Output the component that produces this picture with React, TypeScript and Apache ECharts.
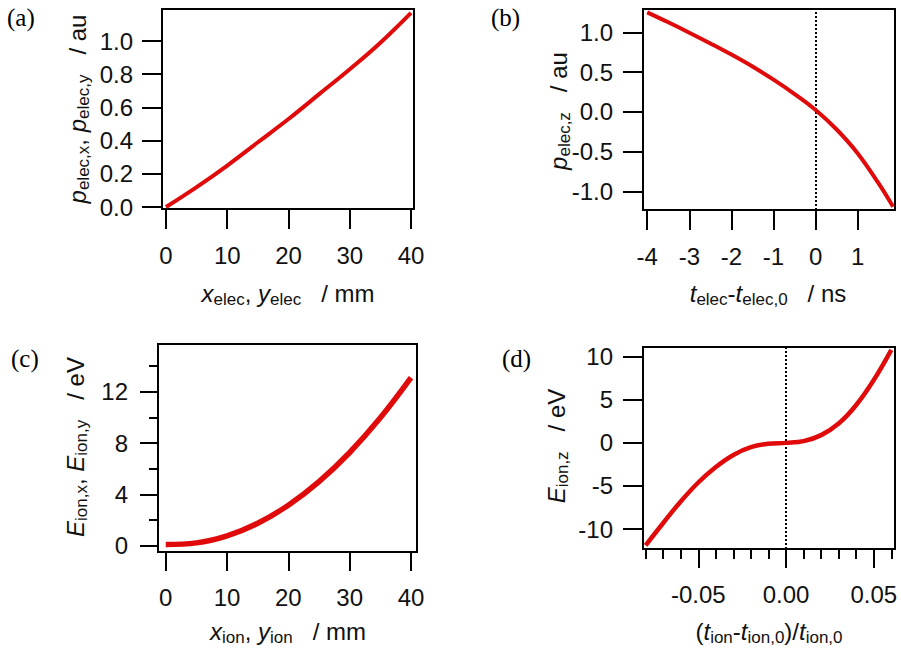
import React, { useEffect, useRef } from "react";
import * as echarts from "echarts";

// ---- data ----
const A_X = [0, 5, 10, 15, 20, 25, 30, 35, 40];
const A_Y = [0, 0.12, 0.25, 0.39, 0.53, 0.68, 0.83, 0.99, 1.17];

const B_X = [-4, -3.5, -3, -2.5, -2, -1.5, -1, -0.5, 0, 0.5, 1, 1.5, 1.84];
const B_Y = [1.25, 1.125, 0.995, 0.86, 0.72, 0.57, 0.405, 0.225, 0.025, -0.22, -0.52, -0.9, -1.19];

const C_X = [0, 5, 10, 15, 20, 25, 30, 35, 40];
const C_Y = [0.1, 0.22, 0.77, 1.75, 3.16, 5.0, 7.27, 9.97, 13.1];

const D_X = [-0.08, -0.07, -0.06, -0.05, -0.04, -0.03, -0.02, -0.01, 0, 0.01, 0.02, 0.03, 0.04, 0.05, 0.06];
const D_Y = [-11.9, -9.3, -6.8, -4.6, -2.8, -1.4, -0.5, -0.1, 0, 0.2, 0.9, 2.25, 4.4, 7.3, 10.8];

// ---- tick values ----
const A_XTICKS = [0, 10, 20, 30, 40];
const A_YTICKS = [0, 0.2, 0.4, 0.6, 0.8, 1.0];
const B_XTICKS = [-4, -3, -2, -1, 0, 1];
const B_YTICKS = [-1, -0.5, 0, 0.5, 1];
const C_XTICKS = [0, 10, 20, 30, 40];
const C_YTICKS = [0, 4, 8, 12];
const C_YMINOR = [2, 6, 10, 14];
const D_XTICKS = [-0.05, 0, 0.05];
const D_XMINOR = [-0.08, -0.07, -0.06, -0.04, -0.03, -0.02, -0.01, 0.01, 0.02, 0.03, 0.04, 0.06];
const D_YTICKS = [-10, -5, 0, 5, 10];

const FONT = "'Liberation Sans', Arial, sans-serif";
const SERIF = "'Liberation Serif', 'Times New Roman', serif";
const RED = "#e00a0a";
const INK = "#111";

function axis(
  gridIndex: number,
  min: number,
  max: number,
  ticks: number[],
  len: number,
  dec: number,
  margin: number,
  showLabels = true
) {
  return {
    type: "value",
    gridIndex,
    min,
    max,
    axisLine: { show: false, onZero: false },
    splitLine: { show: false },
    axisTick: {
      show: true,
      customValues: ticks,
      length: len,
      lineStyle: { color: "#000", width: 2 },
    },
    axisLabel: {
      show: showLabels,
      customValues: ticks,
      formatter: (v: number) => Number(v).toFixed(dec),
      margin,
      fontSize: 24,
      color: INK,
      fontFamily: FONT,
    },
  };
}

const rich = {
  i: { fontSize: 24, fontStyle: "italic", fontFamily: FONT, lineHeight: 30, fill: INK, color: INK },
  n: { fontSize: 24, fontFamily: FONT, lineHeight: 30, fill: INK, color: INK },
  s: { fontSize: 17, fontFamily: FONT, lineHeight: 14, verticalAlign: "bottom", fill: INK, color: INK },
};

function title(text: string, x: number, y: number, rotated: boolean) {
  return {
    type: "text",
    x,
    y,
    rotation: rotated ? Math.PI / 2 : 0,
    style: {
      text,
      rich,
      align: "center",
      verticalAlign: "middle",
      fill: INK,
    },
  };
}

function panelLabel(text: string, x: number, y: number) {
  return {
    type: "text",
    x,
    y,
    style: {
      text,
      fontFamily: SERIF,
      fontSize: 25,
      fill: "#000",
      align: "left",
      verticalAlign: "top",
    },
  };
}

function lineSeries(xi: number, yi: number, xs: number[], ys: number[], width: number, zeroLine: boolean) {
  const s: any = {
    type: "line",
    xAxisIndex: xi,
    yAxisIndex: yi,
    data: xs.map((x, k) => [x, ys[k]]),
    smooth: 0.4,
    symbol: "none",
    clip: false,
    lineStyle: { color: RED, width },
    z: 5,
  };
  if (zeroLine) {
    s.markLine = {
      silent: true,
      symbol: "none",
      label: { show: false },
      lineStyle: { type: [2, 2], color: "#000", width: 2 },
      data: [{ xAxis: 0 }],
      z: 3,
    };
  }
  return s;
}

export default function App() {
  const ref = useRef<HTMLDivElement>(null);

  useEffect(() => {
    if (!ref.current) return;
    const chart = echarts.init(ref.current, undefined, { renderer: "svg" });
    const gridBase = { show: true, borderColor: "#000", borderWidth: 2, backgroundColor: "transparent" };
    chart.setOption({
      animation: false,
      backgroundColor: "#fff",
      grid: [
        { ...gridBase, left: 162, top: 9, width: 252, height: 200 },
        { ...gridBase, left: 643, top: 9, width: 252, height: 201 },
        { ...gridBase, left: 158, top: 344, width: 259, height: 208 },
        { ...gridBase, left: 643, top: 347, width: 252, height: 202 },
      ],
      xAxis: [
        axis(0, -0.653, 40.49, A_XTICKS, 20, 0, 34),
        axis(1, -4.1, 1.885, B_XTICKS, 20, 0, 34),
        axis(2, -1.26, 40.98, C_XTICKS, 19, 0, 33),
        axis(3, -0.0815, 0.0621, D_XTICKS, 19, 2, 33),
        axis(3, -0.0815, 0.0621, D_XMINOR, 10, 2, 33, false),
      ].map((a: any) => ({ ...a, position: "bottom" })),
      yAxis: [
        axis(0, -0.012, 1.193, A_YTICKS, 20, 1, 29),
        axis(1, -1.23, 1.292, B_YTICKS, 20, 1, 30),
        axis(2, -0.49, 15.73, C_YTICKS, 18, 0, 30),
        axis(2, -0.49, 15.73, C_YMINOR, 9, 0, 30, false),
        axis(3, -12.32, 11.13, D_YTICKS, 20, 0, 30),
      ].map((a: any) => ({ ...a, position: "left" })),
      series: [
        lineSeries(0, 0, A_X, A_Y, 4, false),
        lineSeries(1, 1, B_X, B_Y, 4, true),
        lineSeries(2, 2, C_X, C_Y, 5.5, false),
        lineSeries(3, 4, D_X, D_Y, 4.5, true),
      ],
      graphic: [
        panelLabel("(a)", 7, 5),
        panelLabel("(b)", 491, 5),
        panelLabel("(c)", 11, 346),
        panelLabel("(d)", 502, 346),
        title("{i|x}{s|elec}{n|, }{i|y}{s|elec}{n|   / mm}", 288, 293, false),
        title("{i|p}{s|elec,x}{n|, }{i|p}{s|elec,y}{n|   / au}", 77, 109, true),
        title("{i|t}{s|elec}{n|-}{i|t}{s|elec,0}{n|   / ns}", 768, 293, false),
        title("{i|p}{s|elec,z}{n|   / au}", 558, 111, true),
        title("{i|x}{s|ion}{n|, }{i|y}{s|ion}{n|   / mm}", 288, 631, false),
        title("{i|E}{s|ion,x}{n|, }{i|E}{s|ion,y}{n|   / eV}", 75, 447, true),
        title("{n|(}{i|t}{s|ion}{n|-}{i|t}{s|ion,0}{n|)/}{i|t}{s|ion,0}", 769, 631, false),
        title("{i|E}{s|ion,z}{n|   / eV}", 556, 446, true),
      ],
    });
    return () => chart.dispose();
  }, []);

  return (
    <div
      ref={ref}
      style={{ position: "absolute", left: 0, top: 0, width: 901, height: 657, background: "#fff" }}
    />
  );
}
